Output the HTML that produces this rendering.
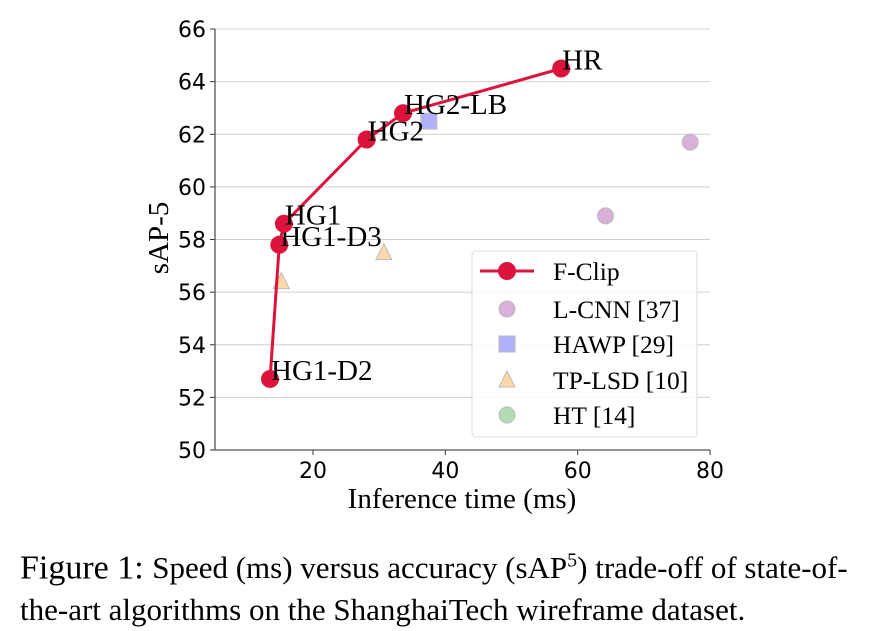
<!DOCTYPE html>
<html><head><meta charset="utf-8"><style>
body{margin:0;background:#fff;width:870px;height:622px;overflow:hidden}
svg{display:block}
.cap{position:absolute;left:20px;top:540px;font-family:"Liberation Serif",serif;font-size:34px;line-height:42px;color:#000;width:860px;white-space:nowrap}
</style></head><body>
<svg id="chart" width="870" height="540"></svg>
<div class="cap">Figure 1: <span style="font-size:31px">Speed (ms) versus accuracy (sAP<sup style="font-size:20px">5</sup>) trade-off of state-of-<br>the-art algorithms on the ShanghaiTech wireframe dataset.</span></div>
<script>
const fclipNames=["HG1-D2","HG1-D3","HG1","HG2","HG2-LB","HR"];
const fclipX=[13.5,14.9,15.6,28.1,33.6,57.5];
const fclipY=[52.7,57.8,58.6,61.8,62.8,64.5];
const lcnnX=[64.2,77.0], lcnnY=[58.9,61.7];
const hawpX=[37.5], hawpY=[62.5];
const tplsdX=[15.2,30.7], tplsdY=[56.4,57.5];
const xTicks=[20,40,60,80];
const yTicks=[50,52,54,56,58,60,62,64,66];
const NS="http://www.w3.org/2000/svg";
const svg=document.getElementById('chart');
const sx=v=>180.7+(v)*6.617;
const sy=v=>450-(v-50)*26.31;
function mk(t,a,p){const e=document.createElementNS(NS,t);for(const k in a)e.setAttribute(k,a[k]);(p||svg).appendChild(e);return e;}
const L=215,R=710;
yTicks.forEach(v=>{
 const g=mk('line',{x1:L,x2:R,y1:sy(v),y2:sy(v),stroke:'#cfcfcf','stroke-width':1});
 
 
 mk('line',{x1:L-5,x2:L,y1:sy(v),y2:sy(v),stroke:'#333'});
 const t=mk('text',{x:L-9,y:sy(v)+8,'text-anchor':'end','font-family':'DejaVu Sans, sans-serif','font-size':22});
 t.textContent=v;
 
 
});
xTicks.forEach(v=>{
 mk('line',{x1:sx(v),x2:sx(v),y1:450,y2:455,stroke:'#333'});
 const t=mk('text',{x:sx(v),y:478,'text-anchor':'middle','font-family':'DejaVu Sans, sans-serif','font-size':22});
 t.textContent=v;
 
 
});
mk('line',{x1:L,x2:L,y1:29,y2:450,stroke:'#555','stroke-width':1.3});
mk('line',{x1:L,x2:R,y1:450,y2:450,stroke:'#555','stroke-width':1.3});
let t=mk('text',{x:462,y:508,'text-anchor':'middle','font-family':'Liberation Serif, serif','font-size':29});
t.textContent='Inference time (ms)';


t=mk('text',{x:0,y:0,'text-anchor':'middle','font-family':'Liberation Serif, serif','font-size':29,transform:'translate(168,238) rotate(-90)'});
t.textContent='sAP-5';


lcnnX.forEach((x,i)=>{const c=mk('circle',{cx:sx(x),cy:sy(lcnnY[i]),r:8,fill:'#d8b0d8',stroke:'#bbb'});
 });
hawpX.forEach((x,i)=>{const c=mk('rect',{x:sx(x)-8,y:sy(hawpY[i])-8,width:16,height:16,fill:'#b0b0ff',stroke:'#bbb'});
 });
tplsdX.forEach((x,i)=>{const px=sx(x),py=sy(tplsdY[i]);const c=mk('polygon',{points:`${px},${py-9} ${px-8},${py+7} ${px+8},${py+7}`,fill:'#ffd8a8',stroke:'#bbb'});
 });
const line=mk('polyline',{points:fclipX.map((x,i)=>sx(x)+','+sy(fclipY[i])).join(' '),fill:'none',stroke:'#dc143c','stroke-width':3});


fclipX.forEach((x,i)=>{const c=mk('circle',{cx:sx(x),cy:sy(fclipY[i]),r:9,fill:'#dc143c'});
 
 const l=mk('text',{x:sx(x)+1,y:sy(fclipY[i])+1,'font-family':'Liberation Serif, serif','font-size':29});
 l.textContent=fclipNames[i];
 });
const lg=mk('g',{});


mk('rect',{x:472,y:251,width:225,height:186,rx:4,fill:'#fff','fill-opacity':0.85,stroke:'#ddd'},lg);
const ly=[271,309,344,380,415];
mk('line',{x1:480,x2:534,y1:ly[0],y2:ly[0],stroke:'#dc143c','stroke-width':3},lg);
mk('circle',{cx:507,cy:ly[0],r:9,fill:'#dc143c'},lg);
mk('circle',{cx:507,cy:ly[1],r:8,fill:'#d8b0d8',stroke:'#bbb'},lg);
mk('rect',{x:499,y:ly[2]-8,width:16,height:16,fill:'#b0b0ff',stroke:'#bbb'},lg);
mk('polygon',{points:`507,${ly[3]-9} 499,${ly[3]+7} 515,${ly[3]+7}`,fill:'#ffd8a8',stroke:'#bbb'},lg);
mk('circle',{cx:507,cy:ly[4],r:8,fill:'#b4dcb4',stroke:'#bbb'},lg);
["F-Clip","L-CNN [37]","HAWP [29]","TP-LSD [10]","HT [14]"].forEach((s,i)=>{
 const e=mk('text',{x:553,y:ly[i]+9,'font-family':'Liberation Serif, serif','font-size':25.5},lg);
 e.textContent=s;
 
 
});
</script>
</body></html>
